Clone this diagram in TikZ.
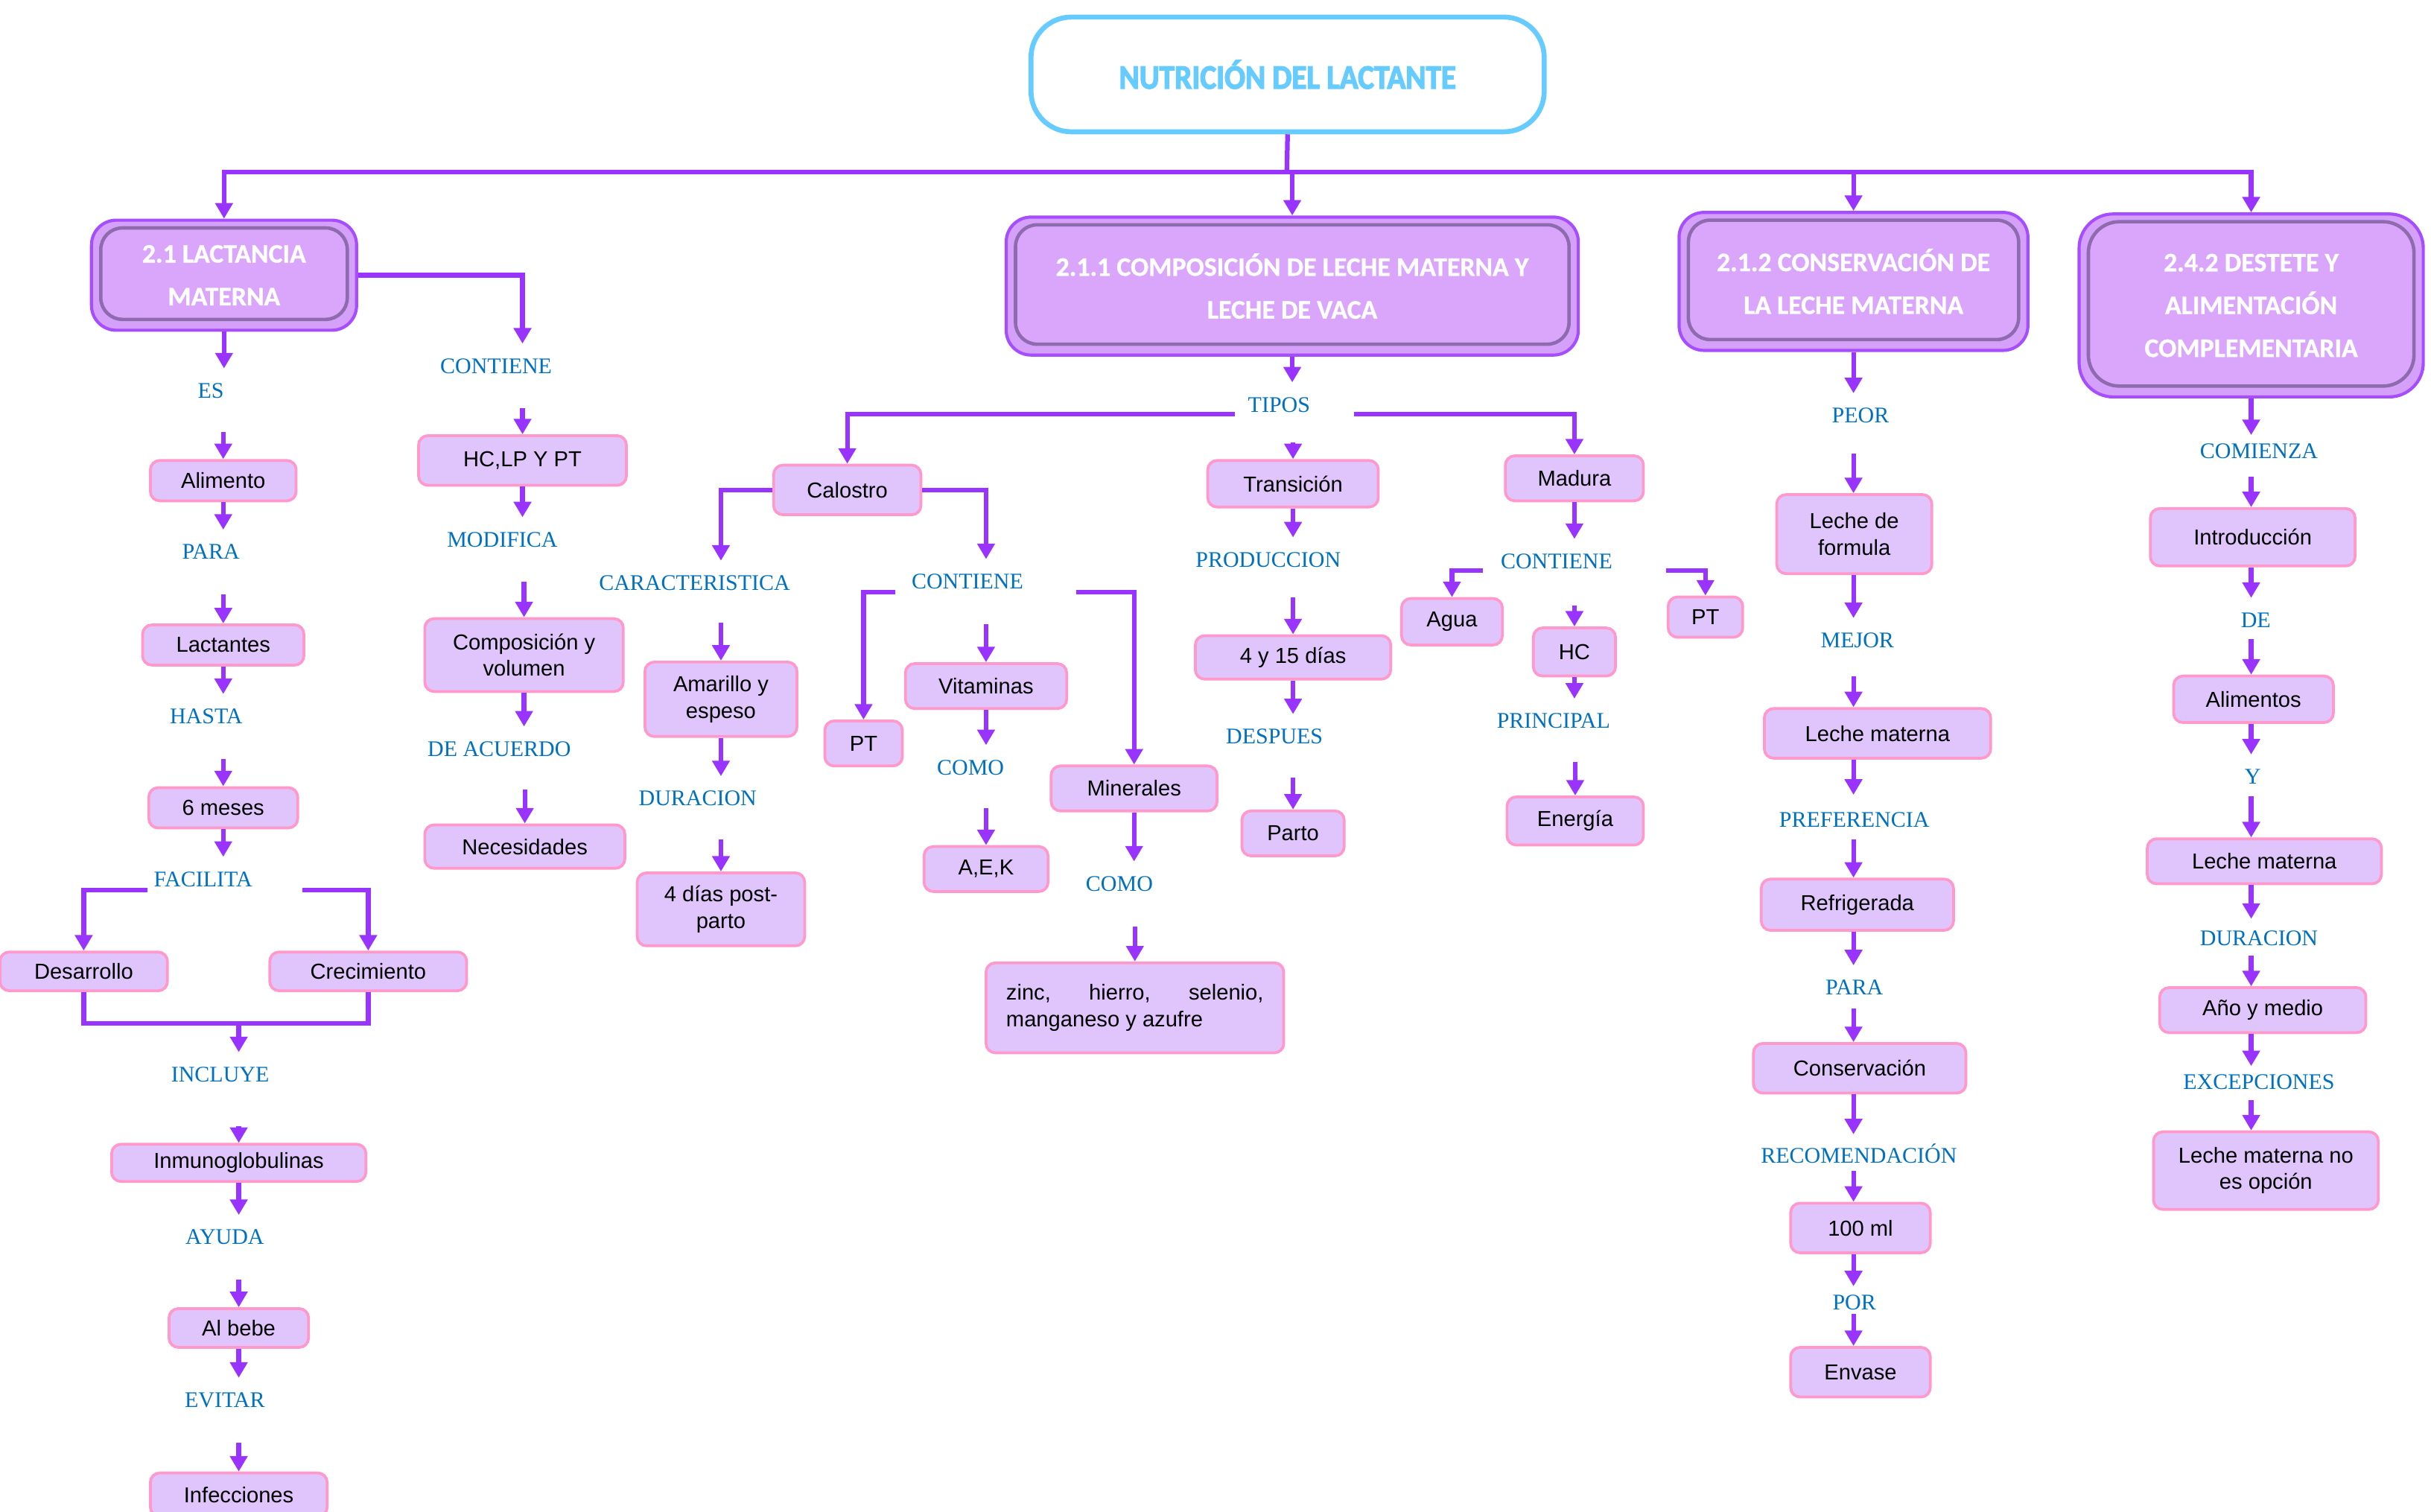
\documentclass[tikz,border=0pt]{standalone}
\usepackage{fontspec}
\usepackage{graphicx}
\setmainfont{Liberation Sans}
\newfontfamily\labfont{Liberation Serif}
\newfontfamily\hdrfont{Carlito}[BoldFeatures={FakeBold=0.8}]
\newfontfamily\ttlfont{Carlito}[BoldFeatures={FakeBold=3}]
\usetikzlibrary{arrows.meta,calc}
\definecolor{lnpurple}{HTML}{9933FF}
\definecolor{labblue}{HTML}{0070C0}
\definecolor{boxfill}{HTML}{E0C4FC}
\definecolor{boxpink}{HTML}{FF99CC}
\definecolor{hdrouter}{HTML}{D4A0FA}
\definecolor{hdrfill}{HTML}{D9A6FC}
\definecolor{hdrborder}{HTML}{A64DFF}
\definecolor{hdrshade}{HTML}{8E6AAE}
\definecolor{titleblue}{HTML}{66CCFF}
\tikzset{
 ln/.style={draw=lnpurple, line width=1.5pt},
 arr/.style={ln, -{Triangle[length=5pt,width=5.5pt]}},
 wh/.style 2 args={minimum width=#1pt, minimum height=#2pt},
 lbox/.style={draw=boxpink, fill=boxfill, line width=0.9pt, rounded corners=3pt, inner sep=1pt, align=center, font=\fontsize{7}{8.5}\selectfont, text=black},
 lab/.style={text=labblue, font=\labfont\fontsize{7.2}{8.6}\selectfont, inner sep=0pt, minimum height=14pt},
 hdr/.style={draw=hdrborder, fill=hdrouter, line width=1pt, rounded corners=#1, align=center, text=white, font=\hdrfont\bfseries\fontsize{8.6}{13.8}\selectfont, inner sep=0pt,
  path picture={\draw[draw=hdrshade, line width=1.1pt, fill=hdrfill, rounded corners=#1-1pt] ([shift={(3pt,-2.5pt)}]path picture bounding box.north west) rectangle ([shift={(-3pt,3.5pt)}]path picture bounding box.south east);}},
 hdr/.default=8pt,
 titlebox/.style={draw=titleblue, line width=1.6pt, rounded corners=13pt, fill=white, text=titleblue, font=\ttlfont\bfseries\fontsize{11}{13}\selectfont}
}
\begin{document}
\begin{tikzpicture}[x=0.5pt,y=-0.5pt]
\useasboundingbox (0,0) rectangle (1568,975);
% title
\node[titlebox, wh={165.5}{37}] (title) at (830.5,48) {\scalebox{0.9}[1]{NUTRICIÓN DEL LACTANTE}};
% headers
\node[hdr, wh={85.5}{35.5}] (h1) at (144.5,177.5) {2.1 LACTANCIA\\MATERNA};
\node[hdr, wh={184.5}{44.5}] (h2) at (833.5,184.5) {2.1.1 COMPOSICIÓN DE LECHE MATERNA Y\\LECHE DE VACA};
\node[hdr, wh={112.5}{44.5}] (h3) at (1195.5,181.5) {2.1.2 CONSERVACIÓN DE\\LA LECHE MATERNA};
\node[hdr=11pt, wh={111}{59}] (h4) at (1452,197) {2.4.2 DESTETE Y\\ALIMENTACIÓN\\COMPLEMENTARIA};
% column 1
\node[lab] (es) at (136,252) {ES};
\node[lbox, wh={47}{13}] (alim) at (144,310) {Alimento};
\node[lab] (para1) at (136,356) {PARA};
\node[lbox, wh={52}{13}] (lact) at (144,416) {Lactantes};
\node[lab] (hasta) at (133,462) {HASTA};
\node[lbox, wh={48}{13}] (mes6) at (144,521) {6 meses};
\node[lab] (facil) at (131,567) {FACILITA};
\node[lbox, wh={54}{12.5}] (desa) at (54,626.5) {Desarrollo};
\node[lbox, wh={63.5}{12.5}] (crec) at (237.5,626.5) {Crecimiento};
\node[lab] (incl) at (142,693) {INCLUYE};
\node[lbox, wh={82}{12}] (inmu) at (154,750) {Inmunoglobulinas};
\node[lab] (ayuda) at (145,798) {AYUDA};
\node[lbox, wh={45}{12.5}] (bebe) at (154,856.5) {Al bebe};
\node[lab] (evitar) at (145,903) {EVITAR};
\node[lbox, wh={57}{14}] (infe) at (154,964) {Infecciones};
% column 2
\node[lab] (cont1) at (320,236) {CONTIENE};
\node[lbox, wh={67}{16}] (hclp) at (337,297) {HC,LP Y PT};
\node[lab] (modif) at (324,348) {MODIFICA};
\node[lbox, wh={64}{23.5}] (comp) at (338,422.5) {Composición y\\volumen};
\node[lab] (deac) at (322,483) {DE ACUERDO};
\node[lbox, wh={64.5}{14}] (nece) at (338.5,546) {Necesidades};
% column 3
\node[lab] (tipos) at (825,261) {TIPOS};
\node[lbox, wh={47.5}{16}] (calo) at (546.5,316) {Calostro};
\node[lbox, wh={55}{15}] (trans) at (834,312) {Transición};
\node[lbox, wh={44.5}{14.5}] (madu) at (1015.5,308.5) {Madura};
\node[lab] (carac) at (448,376) {CARACTERISTICA};
\node[lab] (cont2) at (624,375) {CONTIENE};
\node[lbox, wh={49}{24}] (amar) at (465,451) {Amarillo y\\espeso};
\node[lab] (durac1) at (450,515) {DURACION};
\node[lbox, wh={54}{23.5}] (dias4) at (465,586.5) {4 días post-\\parto};
\node[lbox, wh={25}{14.5}] (pt1) at (557,479.5) {PT};
\node[lbox, wh={52}{14.5}] (vita) at (636,442.5) {Vitaminas};
\node[lab] (como1) at (626,495) {COMO};
\node[lbox, wh={40}{14.5}] (aek) at (636,560.5) {A,E,K};
\node[lbox, wh={53.5}{14.5}] (mine) at (731.5,508.5) {Minerales};
\node[lab] (como2) at (722,570) {COMO};
\node[lbox, wh={96}{29}, text width=83pt, align=justify] (zinc) at (732,650) {zinc,\hfill hierro,\hfill selenio,\\manganeso y azufre};
\node[lab] (prod) at (818,361) {PRODUCCION};
\node[lbox, wh={63}{14}] (dias15) at (834,424) {4 y 15 días};
\node[lab] (desp) at (822,475) {DESPUES};
\node[lbox, wh={33}{14.5}] (parto) at (834,537.5) {Parto};
\node[lab] (cont3) at (1004,362) {CONTIENE};
\node[lbox, wh={32.5}{15}] (agua) at (936.5,401) {Agua};
\node[lbox, wh={24}{13}] (pt2) at (1100,398) {PT};
\node[lbox, wh={26.5}{15.5}] (hc) at (1015.5,420.5) {HC};
\node[lab] (princ) at (1002,465) {PRINCIPAL};
\node[lbox, wh={44}{15.5}] (ener) at (1016,529.5) {Energía};
% column 4
\node[lab] (peor) at (1200,268) {PEOR};
\node[lbox, wh={50}{25.5}] (lform) at (1196,344.5) {Leche de\\formula};
\node[lab] (mejor) at (1198,413) {MEJOR};
\node[lbox, wh={73}{16}] (lmat1) at (1211,473) {Leche materna};
\node[lab] (pref) at (1196,529) {PREFERENCIA};
\node[lbox, wh={62}{16.5}] (refr) at (1198,583.5) {Refrigerada};
\node[lab] (para2) at (1196,637) {PARA};
\node[lbox, wh={68.5}{16}] (cons) at (1199.5,689) {Conservación};
\node[lab] (recom) at (1199,744) {RECOMENDACIÓN};
\node[lbox, wh={45}{16}] (ml) at (1200,792) {100 ml};
\node[lab] (por) at (1196,840) {POR};
\node[lbox, wh={45}{16}] (env) at (1200,885) {Envase};
% column 5
\node[lab] (comi) at (1457,291) {COMIENZA};
\node[lbox, wh={66}{18.5}] (intro) at (1453,346.5) {Introducción};
\node[lab] (de) at (1455,400) {DE};
\node[lbox, wh={51.5}{15}] (alims) at (1453.5,451) {Alimentos};
\node[lab] (ylab) at (1453,501) {Y};
\node[lbox, wh={75.5}{14.5}] (lmat2) at (1460.5,555.5) {Leche materna};
\node[lab] (durac2) at (1457,605) {DURACION};
\node[lbox, wh={66.5}{14.5}] (anio) at (1459.5,651.5) {Año y medio};
\node[lab] (excep) at (1457,698) {EXCEPCIONES};
\node[lbox, wh={72.5}{25}] (lmno) at (1461.5,755) {Leche materna no\\es opción};
% trunk
\coordinate (trunk) at (830,111);
\draw[ln] (title.south) -- (trunk);
\draw[arr] (trunk) -| (h1.north);
\draw[arr] (trunk) -| (h2.north);
\draw[arr] (trunk) -| (h3.north);
\draw[arr] (trunk) -| (h4.north);
% column 1 arrows
\draw[arr] (h1.south) -- (es.north -| h1.south);
\draw[arr] ([yshift=-6pt]es.south -| alim.north) -- (alim.north);
\draw[arr] (alim.south) -- (para1.north -| alim.south);
\draw[arr] ([yshift=-6.5pt]para1.south -| lact.north) -- (lact.north);
\draw[arr] (lact.south) -- (hasta.north -| lact.south);
\draw[arr] ([yshift=-6.5pt]hasta.south -| mes6.north) -- (mes6.north);
\draw[arr] (mes6.south) -- (facil.north -| mes6.south);
\draw[arr] ([shift={(-2pt,-3.5pt)}]facil.west) -| (desa.north);
\draw[arr] ([shift={(16pt,-3.5pt)}]facil.east) -| (crec.north);
\coordinate (join) at (154,660);
\draw[ln] (desa.south) |- (join) -| (crec.south);
\draw[arr] (join) -- (incl.north -| join);
\draw[arr] ([yshift=-9.5pt]incl.south -| inmu.north) -- (inmu.north);
\draw[arr] (inmu.south) -- (ayuda.north -| inmu.south);
\draw[arr] ([yshift=-6.5pt]ayuda.south -| bebe.north) -- (bebe.north);
\draw[arr] (bebe.south) -- (evitar.north -| bebe.south);
\draw[arr] ([yshift=-6.5pt]evitar.south -| infe.north) -- (infe.north);
% column 2 arrows
\draw[arr] (h1.east) -| (cont1.north -| hclp.north);
\draw[arr] ([yshift=-6.5pt]cont1.south -| hclp.north) -- (hclp.north);
\draw[arr] (hclp.south) -- (modif.north -| hclp.south);
\draw[arr] ([yshift=-6.5pt]modif.south -| comp.north) -- (comp.north);
\draw[arr] (comp.south) -- (deac.north -| comp.south);
\draw[arr] ([yshift=-6pt]deac.south -| nece.north) -- (nece.north);
% column 3 arrows
\draw[arr] (h2.south) -- (tipos.north -| h2.south);
\draw[arr] ([shift={(-4pt,-3pt)}]tipos.west) -| (calo.north);
\draw[arr] ([shift={(14pt,-3pt)}]tipos.east) -| (madu.north);
\draw[arr] ([yshift=-5pt]tipos.south -| trans.north) -- (trans.north);
\draw[arr] (calo.west) -| (carac.north -| amar.north);
\draw[arr] (calo.east) -| (cont2.north -| vita.north);
\draw[arr] ([yshift=-5.5pt]carac.south -| amar.north) -- (amar.north);
\draw[arr] (amar.south) -- (durac1.north -| amar.south);
\draw[arr] ([yshift=-6pt]durac1.south -| dias4.north) -- (dias4.north);
\draw[arr] ([shift={(-5pt,-3.5pt)}]cont2.west) -| (pt1.north);
\draw[arr] ([shift={(17pt,-3.5pt)}]cont2.east) -| (mine.north);
\draw[arr] ([yshift=-6.5pt]cont2.south -| vita.north) -- (vita.north);
\draw[arr] (vita.south) -- (como1.north -| vita.south);
\draw[arr] ([yshift=-6pt]como1.south -| aek.north) -- (aek.north);
\draw[arr] (mine.south) -- (como2.north -| mine.south);
\draw[arr] ([yshift=-6.5pt]como2.south -| zinc.north) -- (zinc.north);
\draw[arr] (trans.south) -- (prod.north -| trans.south);
\draw[arr] ([yshift=-5pt]prod.south -| dias15.north) -- (dias15.north);
\draw[arr] (dias15.south) -- (desp.north -| dias15.south);
\draw[arr] ([yshift=-6pt]desp.south -| parto.north) -- (parto.north);
\draw[arr] (madu.south) -- (cont3.north -| madu.south);
\draw[arr] ([shift={(-5.5pt,-3pt)}]cont3.west) -| (agua.north);
\draw[arr] ([shift={(17pt,-3pt)}]cont3.east) -| (pt2.north);
\draw[arr] ([yshift=-7pt]cont3.south -| hc.north) -- (hc.north);
\draw[arr] (hc.south) -- (princ.north -| hc.south);
\draw[arr] ([yshift=-6pt]princ.south -| ener.north) -- (ener.north);
% column 4 arrows
\draw[arr] (h3.south) -- (peor.north -| h3.south);
\draw[arr] ([yshift=-5pt]peor.south -| h3.south) -- (lform.north -| h3.south);
\draw[arr] (lform.south -| h3.south) -- (mejor.north -| h3.south);
\draw[arr] ([yshift=-4.5pt]mejor.south -| h3.south) -- (lmat1.north -| h3.south);
\draw[arr] (lmat1.south -| h3.south) -- ([yshift=1pt]pref.north -| h3.south);
\draw[arr] ([yshift=1pt]pref.south -| h3.south) -- (refr.north -| h3.south);
\draw[arr] (refr.south -| h3.south) -- (para2.north -| h3.south);
\draw[arr] ([yshift=0.5pt]para2.south -| h3.south) -- (cons.north -| h3.south);
\draw[arr] (cons.south -| h3.south) -- ([yshift=-1pt]recom.north -| h3.south);
\draw[arr] ([yshift=1.5pt]recom.south -| h3.south) -- (ml.north -| h3.south);
\draw[arr] (ml.south -| h3.south) -- ([yshift=-2pt]por.north -| h3.south);
\draw[arr] ([yshift=3.5pt]por.south -| h3.south) -- (env.north -| h3.south);
% column 5 arrows
\draw[arr] (h4.south) -- ([yshift=-2pt]comi.north -| h4.south);
\draw[arr] ([yshift=-1pt]comi.south -| h4.south) -- (intro.north -| h4.south);
\draw[arr] (intro.south -| h4.south) -- (de.north -| h4.south);
\draw[arr] ([yshift=1pt]de.south -| h4.south) -- (alims.north -| h4.south);
\draw[arr] (alims.south -| h4.south) -- (ylab.north -| h4.south);
\draw[arr] ([yshift=1pt]ylab.south -| h4.south) -- (lmat2.north -| h4.south);
\draw[arr] (lmat2.south -| h4.south) -- ([yshift=-1pt]durac2.north -| h4.south);
\draw[arr] ([yshift=1.5pt]durac2.south -| h4.south) -- (anio.north -| h4.south);
\draw[arr] (anio.south -| h4.south) -- ([yshift=-2pt]excep.north -| h4.south);
\draw[arr] ([yshift=1.5pt]excep.south -| h4.south) -- (lmno.north -| h4.south);
\end{tikzpicture}
\end{document}
